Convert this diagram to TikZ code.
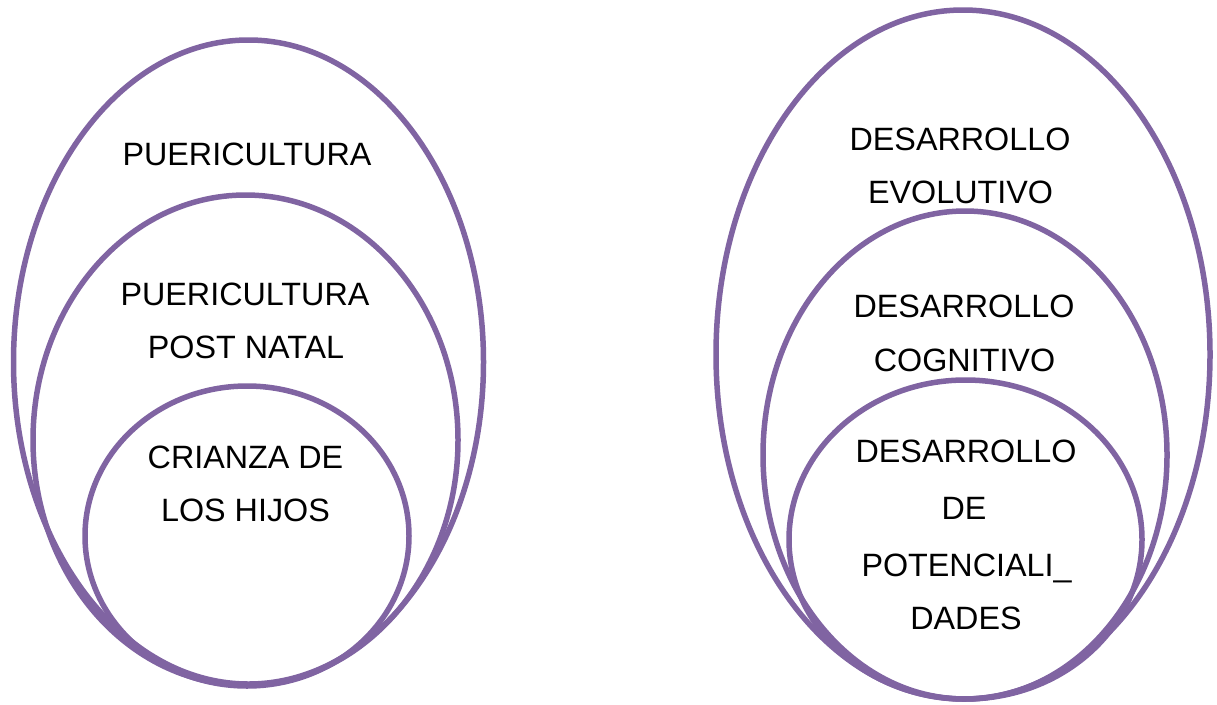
\documentclass[tikz,border=0pt]{standalone}
\usepackage{fontspec}
\setmainfont{Liberation Sans}
\definecolor{ringpurple}{RGB}{128,100,162}
\begin{document}
\begin{tikzpicture}[x=1pt,y=-1pt,
  ring/.style={draw=ringpurple,line width=5.5pt},
  lbl/.style={anchor=base,inner sep=0pt,font=\fontsize{32.3}{38}\selectfont,text=black}]
\useasboundingbox (0,0) rectangle (1217,704);
% left group
\draw[ring] (248.5,362) ellipse [x radius=235, y radius=322];
\draw[ring] (245.5,440) ellipse [x radius=212.5, y radius=245];
\draw[ring] (247,536) ellipse [x radius=162, y radius=150];
% right group
\draw[ring] (963,354.5) ellipse [x radius=247, y radius=344.5];
\draw[ring] (965,455) ellipse [x radius=202, y radius=244];
\draw[ring] (965.5,539.5) ellipse [x radius=176.5, y radius=159.5];
% left labels
\node[lbl] (l1) at (247,165.5) {PUERICULTURA};
\node[lbl] (l2a) at (245,305.5) {PUERICULTURA};
\node[lbl] (l2b) at (246,358.5) {POST NATAL};
\node[lbl] (l3a) at (245.5,468.5) {CRIANZA DE};
\node[lbl] (l3b) at (245.5,521.5) {LOS HIJOS};
% right labels
\node[lbl] (r1a) at (960,150.5) {DESARROLLO};
\node[lbl] (r1b) at (960.5,203.5) {EVOLUTIVO};
\node[lbl] (r2a) at (964,317.5) {DESARROLLO};
\node[lbl] (r2b) at (964.5,371.5) {COGNITIVO};
\node[lbl] (r3a) at (966,462.5) {DESARROLLO};
\node[lbl] (r3b) at (964,519.5) {DE};
\node[lbl] (r3c) at (966.5,576.5) {POTENCIALI\_};
\node[lbl] (r3d) at (966,629.5) {DADES};
\end{tikzpicture}
\end{document}
